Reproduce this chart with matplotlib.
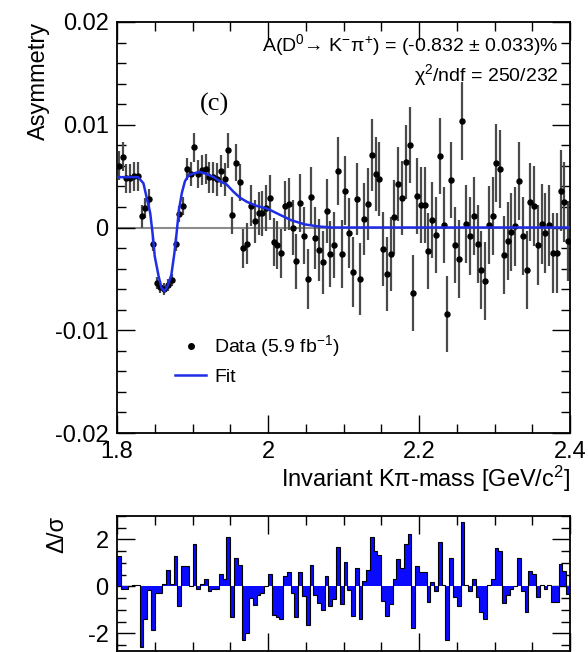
import numpy as np
import matplotlib
matplotlib.use("Agg")
import matplotlib.pyplot as plt
from matplotlib.ticker import MultipleLocator, FuncFormatter
from matplotlib.lines import Line2D

plt.rcParams['font.family'] = ['Liberation Sans', 'DejaVu Sans']
plt.rcParams['axes.unicode_minus'] = False
plt.rcParams['mathtext.fontset'] = 'custom'
plt.rcParams['mathtext.rm'] = 'Liberation Sans'
plt.rcParams['mathtext.it'] = 'Liberation Sans:italic'
plt.rcParams['mathtext.default'] = 'regular'

# 120 bins, 1.8 - 2.4 GeV/c^2
mass_lo, mass_hi, nbins = 1.8, 2.4, 120

asym = [0.0060, 0.0069, 0.0048, 0.0048, 0.0050, 0.0050, 0.0011, 0.0019, 0.0028, -0.0016,
        -0.0054, -0.0058, -0.0060, -0.0056, -0.0051, -0.0016, 0.0013, 0.0021, 0.0057, 0.0052,
        0.0078, 0.0052, 0.0056, 0.0057, 0.0049, 0.0049, 0.0047, 0.0055, 0.0047, 0.0075,
        0.0012, 0.0063, 0.0044, -0.0020, -0.0016, 0.0021, 0.0006, 0.0014, 0.0014, 0.0019,
        0.0029, -0.0014, -0.0017, -0.0025, 0.0021, 0.0023, 0.0000, -0.0033, 0.0024, -0.0008,
        -0.0050, 0.0030, -0.0010, -0.0022, -0.0034, 0.0016, -0.0026, -0.0017, 0.0055, -0.0026,
        0.0036, -0.0005, -0.0043, 0.0028, -0.0050, 0.0008, 0.0023, 0.0071, 0.0052, 0.0047,
        -0.0021, -0.0045, -0.0026, 0.0010, 0.0042, 0.0029, 0.0064, 0.0080, -0.0064, 0.0031,
        0.0022, 0.0022, -0.0023, 0.0007, -0.0007, 0.0070, 0.0002, -0.0084, 0.0046, -0.0017,
        -0.0031, 0.0104, 0.0003, -0.0008, 0.0011, -0.0016, -0.0041, -0.0052, 0.0002, 0.0011,
        0.0063, 0.0057, -0.0027, -0.0013, -0.0004, 0.0001, 0.0045, -0.0008, -0.0041, 0.0025,
        0.0021, -0.0017, 0.0003, -0.0005, 0.0002, -0.0025, -0.0025, 0.0036, 0.0025, -0.0013]

asym_err = [0.0014, 0.0014, 0.0014, 0.0014, 0.0014, 0.0014, 0.0011, 0.0010, 0.0009, 0.0007,
            0.0006, 0.0006, 0.0006, 0.0006, 0.0006, 0.0007, 0.0008, 0.0009, 0.0011, 0.0012,
            0.0014, 0.0014, 0.0015, 0.0015, 0.0015, 0.0015, 0.0016, 0.0016, 0.0016, 0.0017,
            0.0018, 0.0018, 0.0018, 0.0019, 0.0020, 0.0020, 0.0021, 0.0021, 0.0022, 0.0022,
            0.0022, 0.0023, 0.0023, 0.0024, 0.0024, 0.0025, 0.0027, 0.0027, 0.0028, 0.0028,
            0.0029, 0.0029, 0.0030, 0.0030, 0.0031, 0.0031, 0.0032, 0.0032, 0.0033, 0.0033,
            0.0034, 0.0034, 0.0034, 0.0035, 0.0035, 0.0035, 0.0035, 0.0035, 0.0036, 0.0036,
            0.0036, 0.0036, 0.0036, 0.0036, 0.0036, 0.0036, 0.0036, 0.0037, 0.0037, 0.0037,
            0.0037, 0.0037, 0.0037, 0.0037, 0.0037, 0.0037, 0.0037, 0.0037, 0.0037, 0.0037,
            0.0038, 0.0038, 0.0038, 0.0038, 0.0038, 0.0038, 0.0038, 0.0038, 0.0038, 0.0038,
            0.0038, 0.0038, 0.0038, 0.0038, 0.0038, 0.0038, 0.0038, 0.0038, 0.0038, 0.0038,
            0.0039, 0.0039, 0.0039, 0.0039, 0.0039, 0.0039, 0.0039, 0.0039, 0.0039, 0.0039]

pull = [1.3, -0.1, -0.1, 0.0, 0.07, 0.07, -2.6, -1.4, -0.15, -1.85,
        -0.3, -0.3, 0.1, 0.7, 0.1, 1.3, -0.85, 0.85, 0.85, 0.0,
        1.8, -0.1, 0.1, 0.3, -0.2, -0.1, -0.1, 0.55, 0.3, 2.1,
        -1.3, 1.2, 0.9, -2.3, -2.0, -0.5, -0.8, -0.35, -0.3, 0.0,
        0.55, -1.2, -1.3, -1.4, 0.45, 0.6, -0.3, -1.3, 0.6, -0.4,
        -1.65, 0.9, -0.35, -0.7, -1.0, 0.45, -0.85, -0.55, 1.7, -0.75,
        1.05, -0.15, -1.25, 0.8, -1.4, 0.25, 0.7, 2.1, 1.5, 1.35,
        -0.6, -1.25, -0.75, 0.3, 1.15, 0.8, 1.8, 2.25, -1.75, 0.85,
        0.6, 0.6, -0.65, 0.2, -0.2, 1.9, 0.05, -2.3, 1.2, -0.45,
        -0.85, 2.75, 0.08, -0.2, 0.3, -0.45, -1.1, -1.4, 0.05, 0.3,
        1.65, 1.5, -0.7, -0.35, -0.1, 0.03, 1.2, -0.2, -1.1, 0.65,
        0.55, -0.45, 0.08, -0.13, 0.05, -0.65, -0.65, 0.95, 0.65, -0.33]

# fit curve
fit_mass = [1.800, 1.828, 1.835, 1.839, 1.844, 1.847, 1.850, 1.855, 1.859, 1.863,
            1.867, 1.872, 1.876, 1.879, 1.882, 1.886, 1.890, 1.895, 1.903, 1.910,
            1.919, 1.928, 1.936, 1.945, 1.954, 1.963, 1.972, 1.985, 1.996, 2.003,
            2.014, 2.031, 2.049, 2.067, 2.084, 2.400]
fit_val = [0.0049, 0.0049, 0.0043, 0.0030, 0.0014, -0.0005, -0.0028, -0.0047, -0.0059, -0.0062,
           -0.0057, -0.0046, -0.0025, -0.0005, 0.0017, 0.0034, 0.0045, 0.0051, 0.0053, 0.0054,
           0.0052, 0.0049, 0.0045, 0.0042, 0.0035, 0.0029, 0.0025, 0.0021, 0.0019, 0.0017,
           0.0013, 0.0007, 0.0003, 0.0001, 0.0, 0.0]

edges = np.linspace(mass_lo, mass_hi, nbins + 1)
centers = 0.5 * (edges[:-1] + edges[1:])

W, H = 588, 652
fig = plt.figure(figsize=(W / 100, H / 100), dpi=100)
ax = fig.add_axes([117 / W, 1 - 433 / H, 453 / W, 411 / H])
axp = fig.add_axes([117 / W, 1 - 651 / H, 453 / W, 135 / H])

fmt = FuncFormatter(lambda v, p: f'{v:g}')
fit_color = '#1f2ee6'

# main panel
ax.axhline(0, color='#8c8c8c', lw=1.5, zorder=1)
ax.errorbar(centers, asym, yerr=asym_err, fmt='o', color='black', ms=3.6,
            ecolor='#4a4a4a', elinewidth=1.6, capsize=0, zorder=3)
ax.plot(fit_mass, fit_val, color=fit_color, lw=1.8, zorder=4)

ax.set_xlim(mass_lo, mass_hi)
ax.set_ylim(-0.02, 0.02)
ax.xaxis.set_major_locator(MultipleLocator(0.2))
ax.xaxis.set_minor_locator(MultipleLocator(0.05))
ax.yaxis.set_major_locator(MultipleLocator(0.01))
ax.yaxis.set_minor_locator(MultipleLocator(0.002))
ax.xaxis.set_major_formatter(fmt)
ax.yaxis.set_major_formatter(fmt)
ax.tick_params(which='both', direction='in', top=True, right=True, labelsize=17, width=1)
ax.tick_params(which='major', length=13, pad=6)
ax.tick_params(which='minor', length=6.5)
for s in ax.spines.values():
    s.set_linewidth(1.3)

ax.set_ylabel('Asymmetry', fontsize=17, loc='top', labelpad=4)
ax.set_xlabel('Invariant Kπ-mass [GeV/c$^{2}$]', fontsize=17, loc='right', labelpad=0)

ax.text(0.975, 0.943, 'A(D$^{0}$→ K$^{-}$π$^{+}$) = (-0.832 ± 0.033)%',
        transform=ax.transAxes, ha='right', va='center', fontsize=14)
ax.text(0.975, 0.87, 'χ$^{2}$/ndf = 250/232',
        transform=ax.transAxes, ha='right', va='center', fontsize=14)
ax.text(0.215, 0.80, '(c)', transform=ax.transAxes, ha='center', va='center',
        fontsize=19, family='Liberation Serif')

handles = [Line2D([], [], ls='none', marker='o', ms=4, color='black'),
           Line2D([], [], color=fit_color, lw=1.8)]
ax.legend(handles, ['Data (5.9 fb$^{-1}$)', 'Fit'], loc='upper left',
          bbox_to_anchor=(0.09, 0.285), frameon=False, fontsize=14,
          handlelength=1.6, handletextpad=0.4, labelspacing=0.45)

# pull panel
axp.stairs(pull, edges, baseline=0, fill=True, color='#0a0aff', zorder=2)
axp.stairs(pull, edges, baseline=0, color='black', lw=0.8, zorder=3)
axp.set_xlim(mass_lo, mass_hi)
axp.set_ylim(-2.75, 3.0)
axp.xaxis.set_major_locator(MultipleLocator(0.2))
axp.xaxis.set_minor_locator(MultipleLocator(0.05))
axp.yaxis.set_major_locator(MultipleLocator(2))
axp.yaxis.set_minor_locator(MultipleLocator(0.5))
axp.yaxis.set_major_formatter(fmt)
axp.tick_params(which='both', direction='in', top=True, right=True, labelsize=17, width=1,
                labelbottom=False)
axp.tick_params(which='major', length=13, pad=6)
axp.tick_params(which='minor', length=6.5)
for s in axp.spines.values():
    s.set_linewidth(1.3)
axp.set_ylabel('Δ/σ', fontsize=17, loc='top', labelpad=14)

fig.savefig('out.png', dpi=100)
